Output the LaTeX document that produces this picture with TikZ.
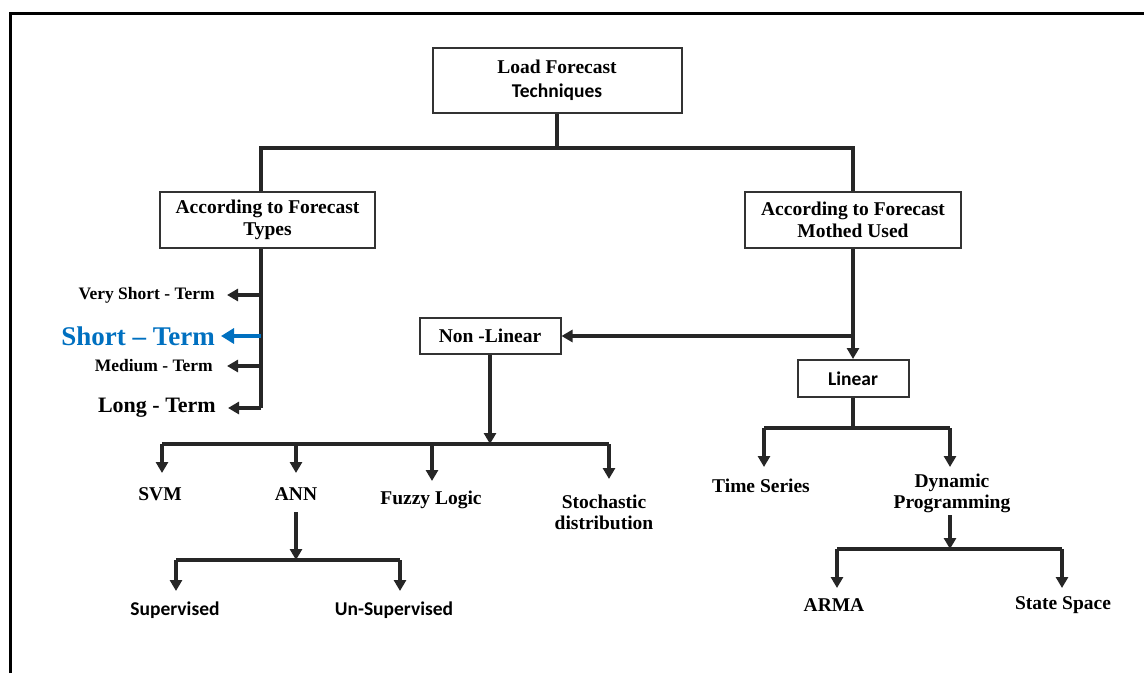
\documentclass[tikz,border=0pt]{standalone}
\usepackage{fontspec}
\setmainfont{Liberation Serif}
\newfontfamily\calfont{Carlito}
\usetikzlibrary{arrows.meta,calc}
\definecolor{sblue}{RGB}{0,112,192}
\begin{document}
\begin{tikzpicture}[x=1pt,y=-1pt,
 box/.style={draw=black!80,line width=2pt,fill=white,font=\bfseries\fontsize{19.5}{22.5}\selectfont,align=center,inner sep=0pt},
 lbl/.style={font=\bfseries\fontsize{19.5}{21}\selectfont,align=center,inner sep=0pt},
 conn/.style={line width=3.2pt,draw=black!85},
 arr/.style={conn,-{Triangle[length=11pt,width=12pt]}},
]
\useasboundingbox (0,0) rectangle (1144,673);
\draw[line width=3pt] (10,673) -- (10,13) -- (1144,13);

% boxes
\node[box,minimum width=249pt,minimum height=65pt] (root) at (557,80.5) {Load Forecast\\[2pt]{\calfont Techniques}};
\node[box,minimum width=215pt,minimum height=56pt] (left) at (267.5,220) {According to Forecast\\Types};
\node[box,minimum width=216pt,minimum height=56pt] (right) at (853,220) {According to Forecast\\Mothed Used};
\node[box,minimum width=141pt,minimum height=36pt] (nl) at (490,336) {Non -Linear};
\node[box,minimum width=111pt,minimum height=37pt] (lin) at (853,378.5) {\calfont Linear};

% top level
\coordinate (hl) at (261,148);
\coordinate (hr) at (853,148);
\draw[conn] (root.south) -- (root.south |- hl);
\draw[conn] (hl |- left.north) -- (hl) -- (hr) -- (hr |- right.north);

% forecast types
\coordinate (lv) at (261,408);
\draw[conn] (hl |- left.south) -- (lv);
\node[lbl,anchor=east,font=\bfseries\fontsize{17.5}{20}\selectfont] (vst) at (215,295) {Very Short - Term};
\node[lbl,anchor=east,text=sblue,font=\bfseries\fontsize{27}{30}\selectfont] (st) at (215,336) {Short – Term};
\node[lbl,anchor=east,font=\bfseries\fontsize{17.5}{20}\selectfont] (mt) at (213,366) {Medium - Term};
\node[lbl,anchor=east,font=\bfseries\fontsize{22}{24}\selectfont] (lt) at (216,408) {Long - Term};
\draw[arr,shorten >=12pt] (vst -| lv) -- (vst.east);
\draw[arr,draw=sblue,line width=3.6pt,-{Triangle[length=13pt,width=15pt]},shorten >=6pt] (st -| lv) -- (st.east);
\draw[arr,shorten >=14pt] (mt -| lv) -- (mt.east);
\draw[arr,shorten >=12pt] (lt -| lv) -- (lt.east);

% method used
\coordinate (nb) at (853,336);
\draw[arr] (right.south) -- (lin.north);
\draw[arr] (nb) -- (nl.east);

% non-linear
\coordinate (nlb) at (490,444);
\coordinate (b1) at (162,444);
\coordinate (b2) at (296,444);
\coordinate (b3) at (432,444);
\coordinate (b4) at (609,444);
\draw[arr] (nl.south) -- (nlb);
\draw[conn] (b1) -- (b4);
\node[lbl] (svm) at (160,494) {SVM};
\node[lbl] (ann) at (296,494) {ANN};
\node[lbl] (fuzzy) at (431,500) {Fuzzy Logic};
\node[lbl] (stoch) at (604,512) {Stochastic\\distribution};
\coordinate (t1) at (162,473);
\coordinate (t2) at (296,473);
\coordinate (t3) at (432,481);
\coordinate (t4) at (609,479);
\draw[arr] (b1) -- (t1);
\draw[arr] (b2) -- (t2);
\draw[arr] (b3) -- (t3);
\draw[arr] (b4) -- (t4);

% ANN
\coordinate (as) at (296,512);
\coordinate (ab) at (296,560);
\coordinate (ab1) at (176,560);
\coordinate (ab2) at (400,560);
\draw[arr] (as) -- (ab);
\draw[conn] (ab1) -- (ab2);
\node[lbl,font=\calfont\bfseries\fontsize{19.5}{21}\selectfont] (sup) at (175,610) {Supervised};
\node[lbl,font=\calfont\bfseries\fontsize{19.5}{21}\selectfont] (unsup) at (394,610) {Un-Supervised};
\coordinate (at1) at (176,591);
\coordinate (at2) at (400,591);
\draw[arr] (ab1) -- (at1);
\draw[arr] (ab2) -- (at2);

% linear
\coordinate (lb) at (853,428);
\coordinate (lb1) at (764,428);
\coordinate (lb2) at (950,428);
\draw[conn] (lin.south) -- (lb);
\draw[conn] (lb1) -- (lb2);
\node[lbl] (ts) at (761,486) {Time Series};
\node[lbl] (dp) at (952,493) {Dynamic\\Programming};
\coordinate (lt1) at (764,467);
\coordinate (lt2) at (950,467);
\draw[arr] (lb1) -- (lt1);
\draw[arr] (lb2) -- (lt2);

% dynamic programming
\coordinate (ds) at (950,515);
\coordinate (db) at (950,549);
\coordinate (db1) at (837,549);
\coordinate (db2) at (1062,549);
\draw[arr] (ds) -- (db);
\draw[conn] (db1) -- (db2);
\node[lbl] (arma) at (834,605) {ARMA};
\node[lbl] (ss) at (1063,605) {State Space};
\coordinate (dt1) at (837,588);
\coordinate (dt2) at (1062,588);
\draw[arr] (db1) -- (dt1);
\draw[arr] (db2) -- (dt2);
\end{tikzpicture}
\end{document}
